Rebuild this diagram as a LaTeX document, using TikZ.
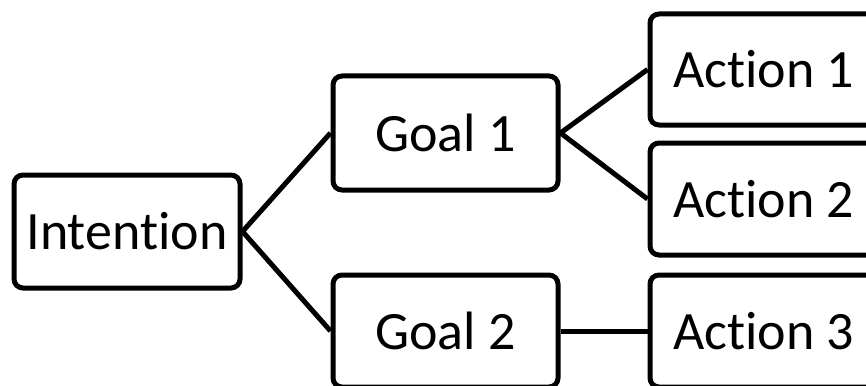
\documentclass[tikz,border=0pt]{standalone}
\usepackage{fontspec}
\setmainfont{Carlito}[Ligatures=NoCommon]
\begin{document}
\begin{tikzpicture}[x=1pt,y=-1pt,
  box/.style={draw=black, line width=5pt, rounded corners=9pt, inner sep=0pt,
    font=\fontsize{54}{60}\selectfont, text=black},
  link/.style={draw=black, line width=5pt}]
\useasboundingbox (0,0) rectangle (866,385);
\clip (0,0) rectangle (866,385);
\node[box, minimum width=226pt, minimum height=113pt] (int) at (127,231.5) {Intention};
\node[box, minimum width=225pt, minimum height=114pt] (g1) at (445.5,133) {Goal 1};
\node[box, minimum width=225pt, minimum height=112pt] (g2) at (445.5,331) {Goal 2};
\node[box, minimum width=227pt, minimum height=111pt] (a1) at (763.5,69.5) {Action 1};
\node[box, minimum width=227pt, minimum height=112pt] (a2) at (763.5,199) {Action 2};
\node[box, minimum width=227pt, minimum height=112pt] (a3) at (763.5,331) {Action 3};
\draw[link] (g1.west) -- (int.east) -- (g2.west);
\draw[link] (a1.west) -- (g1.east) -- (a2.west);
\draw[link] (g2.east) -- (a3.west);
\end{tikzpicture}
\end{document}
